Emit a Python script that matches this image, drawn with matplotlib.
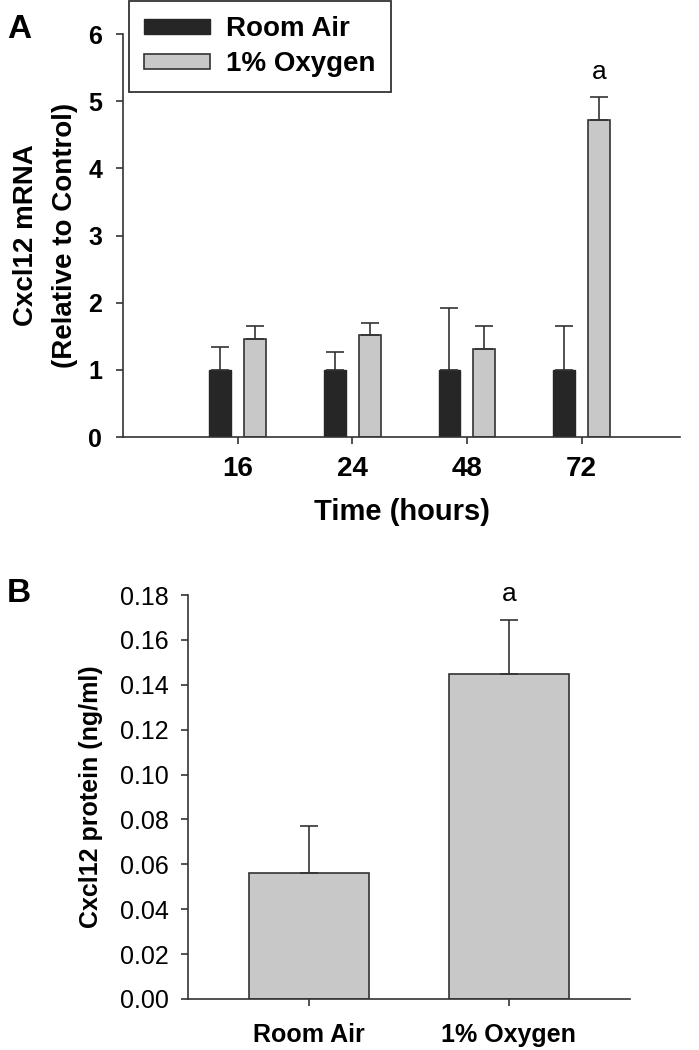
import numpy as np
import matplotlib.pyplot as plt

plt.rcParams['font.family'] = ['Liberation Sans', 'DejaVu Sans']

# panel A data
hours = ['16', '24', '48', '72']
room_air = [1.0, 1.0, 1.0, 1.0]
room_air_err = [0.34, 0.27, 0.92, 0.65]
oxygen = [1.46, 1.52, 1.31, 4.72]
oxygen_err = [0.19, 0.18, 0.34, 0.34]

# panel B data
groups = ['Room Air', '1% Oxygen']
protein = [0.056, 0.145]
protein_err = [0.021, 0.024]

dark = '#262626'
grey = '#c8c8c8'
edge = '#333333'

fig = plt.figure(figsize=(6.99, 10.5), dpi=100)

#panel A
axA = fig.add_axes([0.176, 0.5838, 0.797, 0.3838])
x = np.arange(1, len(hours) + 1)
w = 0.19
axA.bar(x - 0.152, room_air, w, color=dark, edgecolor=dark, lw=1)
axA.bar(x + 0.152, oxygen, w, color=grey, edgecolor=edge, lw=1.2)
axA.errorbar(x - 0.152, room_air, yerr=[np.zeros(4), room_air_err], fmt='none',
             ecolor=edge, elinewidth=1.2, capsize=6.5, capthick=1.2)
axA.errorbar(x + 0.152, oxygen, yerr=[np.zeros(4), oxygen_err], fmt='none',
             ecolor=edge, elinewidth=1.2, capsize=6.5, capthick=1.2)
axA.text(x[3] + 0.152, oxygen[3] + oxygen_err[3] + 0.2, 'a', ha='center', va='bottom', fontsize=19)
axA.set_xlim(0, 4.86)
axA.set_ylim(0, 6)
axA.set_xticks(x)
axA.set_xticklabels(hours, fontsize=20, fontweight='bold')
axA.set_yticks(range(7))
axA.set_yticklabels([str(i) for i in range(7)], fontsize=18, fontweight='bold')
axA.set_xlabel('Time (hours)', fontsize=21, fontweight='bold', labelpad=11)
axA.set_ylabel('Cxcl12 mRNA\n(Relative to Control)', fontsize=20, fontweight='bold',
               labelpad=7, linespacing=1.65)
for s in ['top', 'right']:
    axA.spines[s].set_visible(False)
for s in ['left', 'bottom']:
    axA.spines[s].set_linewidth(1.2)
    axA.spines[s].set_color(edge)
axA.tick_params(direction='out', length=5, width=1.2, color=edge)
axA.tick_params(axis='y', pad=10)
axA.tick_params(axis='x', pad=9)
leg = axA.legend(['Room Air', '1% Oxygen'], loc='upper left', bbox_to_anchor=(0.1845, 0.999),
                 bbox_transform=fig.transFigure, fancybox=False, framealpha=1,
                 prop={'size': 20, 'weight': 'bold'}, handlelength=2.35, handleheight=0.47,
                 borderpad=0.55, labelspacing=0.32, handletextpad=0.6, borderaxespad=0)
leg.get_frame().set_edgecolor(edge)
leg.get_frame().set_linewidth(1.3)

#panel B
axB = fig.add_axes([0.269, 0.0486, 0.632, 0.3847])
xb = np.arange(1, 3)
axB.bar(xb, protein, 0.6, color=grey, edgecolor=edge, lw=1.2)
axB.errorbar(xb, protein, yerr=[np.zeros(2), protein_err], fmt='none',
             ecolor=edge, elinewidth=1.2, capsize=6.5, capthick=1.2)
axB.text(xb[1], protein[1] + protein_err[1] + 0.006, 'a', ha='center', va='bottom', fontsize=19)
axB.set_xlim(0.395, 2.605)
axB.set_ylim(0, 0.18)
axB.set_xticks(xb)
axB.set_xticklabels(groups, fontsize=18, fontweight='bold')
yt = np.arange(0, 0.181, 0.02)
axB.set_yticks(yt)
axB.set_yticklabels(['%.2f' % v for v in yt], fontsize=18)
axB.set_ylabel('Cxcl12 protein (ng/ml)', fontsize=18, fontweight='bold', labelpad=12)
for s in ['top', 'right']:
    axB.spines[s].set_visible(False)
for s in ['left', 'bottom']:
    axB.spines[s].set_linewidth(1.2)
    axB.spines[s].set_color(edge)
axB.tick_params(direction='out', length=5, width=1.2, color=edge)
axB.tick_params(axis='y', pad=9)
axB.tick_params(axis='x', pad=12)

fig.text(0.01, 0.987, 'A', fontsize=24, fontweight='bold', va='top')
fig.text(0.01, 0.450, 'B', fontsize=24, fontweight='bold', va='top')

plt.savefig('out.png', dpi=100)
